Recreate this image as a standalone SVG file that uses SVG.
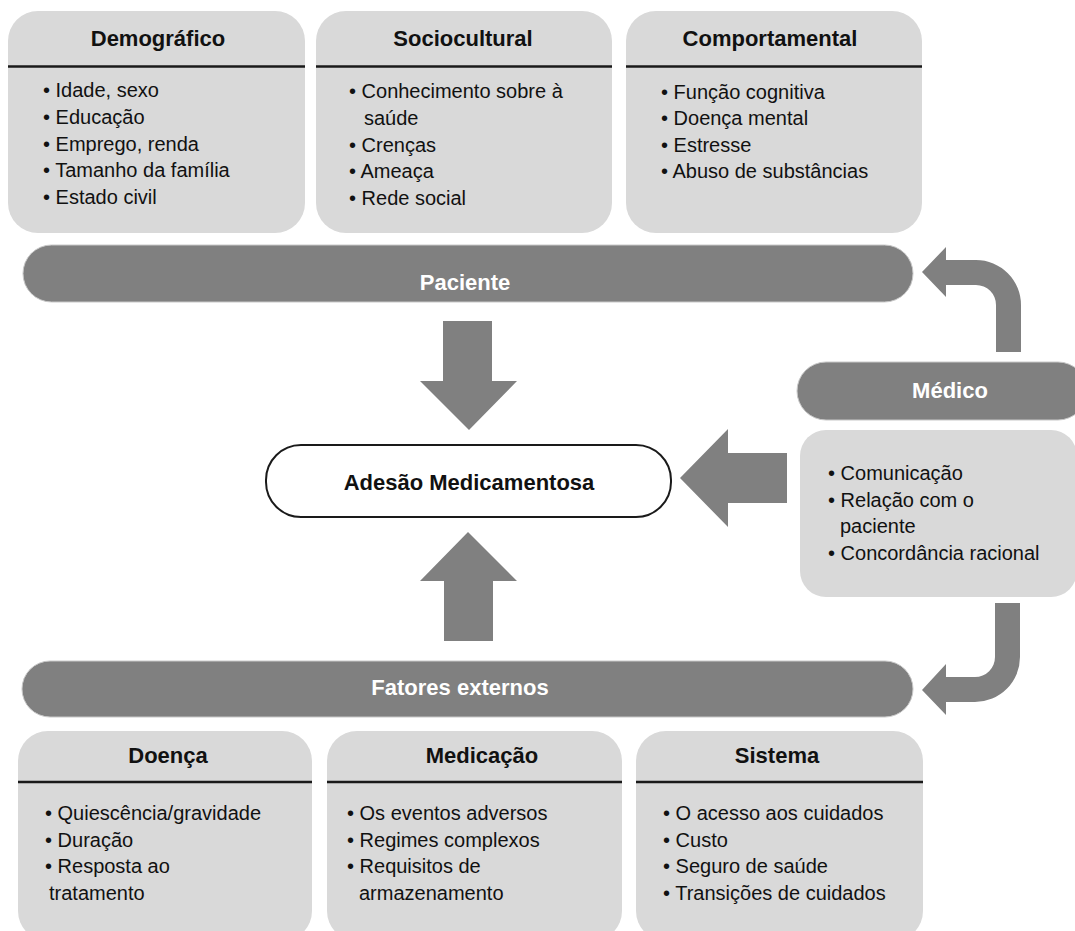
<svg xmlns="http://www.w3.org/2000/svg" width="1075" height="931" viewBox="0 0 1075 931">
<style>
text{font-family:"Liberation Sans",Arial,sans-serif;fill:#111}
.box{fill:#d9d9d9}
.div{stroke:#1a1a1a;stroke-width:2.5}
.title{font-size:22px;font-weight:bold;text-anchor:middle}
.item{font-size:20px}
.bar{fill:#808080;stroke:#c8c8c8;stroke-width:1}
.bartxt{font-size:22px;font-weight:bold;fill:#fff;text-anchor:middle}
.arrow{fill:#808080}
</style>
<rect width="1075" height="931" fill="#fff"/>

<g id="demografico">
<rect class="box" x="8" y="11" width="297" height="222" rx="30"/>
<line class="div" x1="8" y1="66.5" x2="305" y2="66.5"/>
<text class="title" x="158" y="46">Demográfico</text>
<text class="item" x="43" y="97">• Idade, sexo</text>
<text class="item" x="43" y="124">• Educação</text>
<text class="item" x="43" y="151">• Emprego, renda</text>
<text class="item" x="43" y="177">• Tamanho da família</text>
<text class="item" x="43" y="204">• Estado civil</text>
</g>

<g id="sociocultural">
<rect class="box" x="316" y="11" width="296" height="222" rx="30"/>
<line class="div" x1="316" y1="66.5" x2="612" y2="66.5"/>
<text class="title" x="463" y="46">Sociocultural</text>
<text class="item" x="349" y="98">• Conhecimento sobre à</text>
<text class="item" x="364" y="125">saúde</text>
<text class="item" x="349" y="152">• Crenças</text>
<text class="item" x="349" y="178">• Ameaça</text>
<text class="item" x="349" y="205">• Rede social</text>
</g>

<g id="comportamental">
<rect class="box" x="626" y="11" width="296" height="222" rx="30"/>
<line class="div" x1="626" y1="66.5" x2="922" y2="66.5"/>
<text class="title" x="770" y="46">Comportamental</text>
<text class="item" x="661" y="99">• Função cognitiva</text>
<text class="item" x="661" y="125">• Doença mental</text>
<text class="item" x="661" y="152">• Estresse</text>
<text class="item" x="661" y="178">• Abuso de substâncias</text>
</g>

<g id="paciente">
<rect class="bar" x="23" y="245" width="890" height="57" rx="28.5"/>
<text class="bartxt" x="465" y="290">Paciente</text>
</g>

<g id="adesao">
<rect x="266" y="445" width="405" height="72" rx="35" fill="#fff" stroke="#1a1a1a" stroke-width="2"/>
<text class="title" x="469" y="490">Adesão Medicamentosa</text>
</g>

<g id="medico">
<rect class="bar" x="797" y="362" width="290" height="58" rx="29"/>
<text class="bartxt" x="950" y="398">Médico</text>
<rect class="box" x="800" y="430" width="277" height="167" rx="26"/>
<text class="item" x="828" y="480">• Comunicação</text>
<text class="item" x="828" y="507">• Relação com o</text>
<text class="item" x="840" y="533">paciente</text>
<text class="item" x="828" y="560">• Concordância racional</text>
</g>

<g id="fatores-externos">
<rect class="bar" x="22" y="661" width="891" height="56" rx="28"/>
<text class="bartxt" x="460" y="695">Fatores externos</text>
</g>

<g id="doenca">
<rect class="box" x="18" y="731" width="294" height="210" rx="30"/>
<line class="div" x1="18" y1="782" x2="312" y2="782"/>
<text class="title" x="168" y="763">Doença</text>
<text class="item" x="45" y="820">• Quiescência/gravidade</text>
<text class="item" x="45" y="847">• Duração</text>
<text class="item" x="45" y="873">• Resposta ao</text>
<text class="item" x="49" y="900">tratamento</text>
</g>

<g id="medicacao">
<rect class="box" x="327" y="731" width="295" height="210" rx="30"/>
<line class="div" x1="327" y1="782" x2="622" y2="782"/>
<text class="title" x="482" y="763">Medicação</text>
<text class="item" x="347" y="820">• Os eventos adversos</text>
<text class="item" x="347" y="847">• Regimes complexos</text>
<text class="item" x="347" y="873">• Requisitos de</text>
<text class="item" x="359" y="900">armazenamento</text>
</g>

<g id="sistema">
<rect class="box" x="636" y="731" width="287" height="210" rx="30"/>
<line class="div" x1="636" y1="782" x2="923" y2="782"/>
<text class="title" x="777" y="763">Sistema</text>
<text class="item" x="663" y="820">• O acesso aos cuidados</text>
<text class="item" x="663" y="847">• Custo</text>
<text class="item" x="663" y="873">• Seguro de saúde</text>
<text class="item" x="663" y="900">• Transições de cuidados</text>
</g>

<g id="connectors">
<path class="arrow" d="M443 321 H492 V381 H517 L469 430 L420 381 H443 Z"/>
<path class="arrow" d="M444 641 H493 V581 H517 L468 532 L420 581 H444 Z"/>
<path class="arrow" d="M787 453 V503 H728 V527 L680 478 L728 429 V453 Z"/>
<path class="arrow" d="M1021 352 V305 A45 45 0 0 0 976 260 H946 V247 L922 272 L946 297 V285 H976 A20 20 0 0 1 996 305 V352 Z"/>
<path class="arrow" d="M1020 603 V657 A45 45 0 0 1 975 702 H946 V715 L922 690 L946 664 V677 H975 A20 20 0 0 0 995 657 V603 Z"/>
</g>
</svg>
